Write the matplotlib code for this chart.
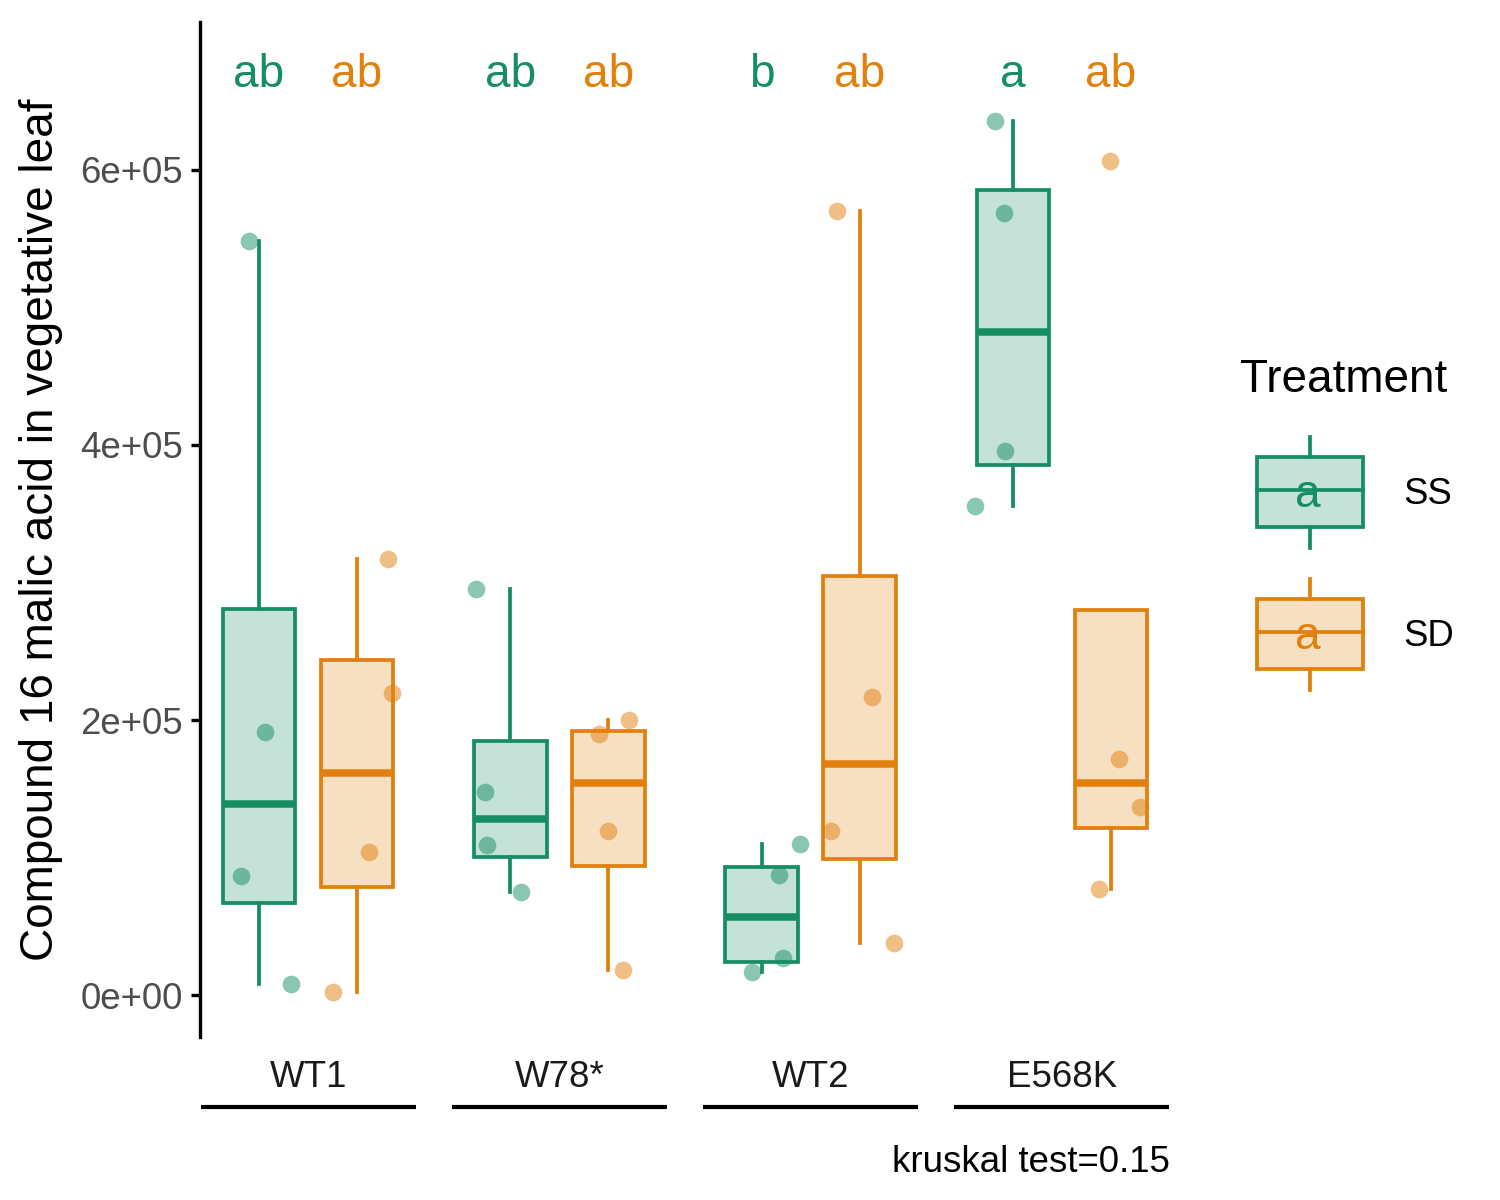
import numpy as np
import matplotlib.pyplot as plt
from matplotlib.patches import Rectangle

plt.rcParams['font.family'] = ['Liberation Sans', 'DejaVu Sans']

# data (values in units of 1e5)
genotypes = ['WT1', 'W78*', 'WT2', 'E568K']
treatments = ['SS', 'SD']
colors = {'SS': '#168E63', 'SD': '#E2800E'}

values = {
    'SS': [[5.484, 1.913, 0.865, 0.080],
           [2.953, 1.476, 1.091, 0.749],
           [1.098, 0.873, 0.269, 0.167],
           [6.356, 5.687, 3.956, 3.556]],
    'SD': [[3.171, 2.196, 1.040, 0.022],
           [2.000, 1.898, 1.193, 0.182],
           [5.702, 2.167, 1.193, 0.378],
           [6.065, 1.716, 1.367, 0.771]],
}
# horizontal jitter of each point (category units)
jitter = {
    'SS': [[-0.040, 0.024, -0.072, 0.127],
           [-0.135, -0.099, -0.091, 0.044],
           [0.151, 0.068, 0.083, -0.040],
           [-0.072, -0.036, -0.032, -0.151]],
    'SD': [[0.123, 0.139, 0.048, -0.095],
           [0.083, -0.036, 0.000, 0.060],
           [-0.091, 0.048, -0.115, 0.135],
           [-0.004, 0.032, 0.115, -0.048]],
}
letters = {'SS': ['ab', 'ab', 'b', 'a'], 'SD': ['ab', 'ab', 'ab', 'ab']}
kruskal_p = 0.15

dodge = 0.195
width = 0.29

fig = plt.figure(figsize=(5, 4), dpi=300)
ax = fig.add_axes([200/1500, 1 - 1037/1200, 970/1500, 1015/1200])

x0 = np.arange(1, len(genotypes) + 1)
for k, tr in enumerate(treatments):
    col = colors[tr]
    pos = x0 + (dodge if tr == 'SD' else -dodge)
    data = [np.array(v) * 1e5 for v in values[tr]]
    bp = ax.boxplot(data, positions=pos, widths=width, patch_artist=True,
                    showfliers=False, showcaps=False, whis=1.5,
                    boxprops=dict(facecolor=col, edgecolor=col, linewidth=0.9),
                    whiskerprops=dict(color=col, linewidth=0.9),
                    medianprops=dict(color=col, linewidth=1.8))
    for b in bp['boxes']:
        b.set_facecolor(plt.matplotlib.colors.to_rgba(col, 0.25))
    for i, p in enumerate(pos):
        xs = p + np.array(jitter[tr][i])
        ax.scatter(xs, data[i], s=18, color=col, alpha=0.5, linewidths=0, zorder=4)
        ax.text(p, 6.69e5, letters[tr][i], color=col, fontsize=11,
                ha='center', va='center')

ax.set_xlim(0.57, 4.43)
ax.set_ylim(-0.305e5, 7.076e5)
ax.set_yticks([0, 2e5, 4e5, 6e5])
ax.set_yticklabels(['0e+00', '2e+05', '4e+05', '6e+05'])
ax.set_xticks(x0)
ax.set_xticklabels(genotypes)
ax.tick_params(axis='x', length=0, pad=5.5, labelsize=8.8, labelcolor='#1a1a1a')
ax.tick_params(axis='y', length=2.2, width=0.8, pad=2, labelsize=8.8,
               labelcolor='#4D4D4D')
for s in ['top', 'right', 'bottom']:
    ax.spines[s].set_visible(False)
ax.spines['left'].set_linewidth(0.8)
ax.set_ylabel('Compound 16 malic acid in vegetative leaf', fontsize=11, labelpad=4)

# group lines under the labels
for xc in x0:
    ax.plot([xc - 0.428, xc + 0.428], [-0.069, -0.069], color='black', lw=1.0,
            transform=ax.get_xaxis_transform(), clip_on=False,
            solid_capstyle='butt')

ax.text(1.0, -0.124, f'kruskal test={kruskal_p}', transform=ax.transAxes,
        ha='right', va='center', fontsize=8.8)

# legend drawn in pixel coordinates
lg = fig.add_axes([0, 0, 1, 1], facecolor='none')
lg.set_xlim(0, 1500)
lg.set_ylim(1200, 0)
lg.axis('off')
lg.text(1240, 380, 'Treatment', fontsize=11, ha='left', va='center')
for tr, cy in zip(treatments, [492, 634]):
    col = colors[tr]
    lg.plot([1310, 1310], [cy - 55, cy - 35], color=col, lw=0.9)
    lg.plot([1310, 1310], [cy + 35, cy + 56], color=col, lw=0.9)
    lg.add_patch(Rectangle((1257, cy - 35), 106, 70,
                           facecolor=plt.matplotlib.colors.to_rgba(col, 0.25),
                           edgecolor=col, lw=0.9, zorder=3))
    lg.plot([1257, 1363], [cy - 2, cy - 2], color=col, lw=0.9, zorder=4)
    lg.text(1308, cy + 3, 'a', color=col, fontsize=11, ha='center',
            va='center', zorder=5)
    lg.text(1403, cy + 2, tr, fontsize=8.8, ha='left', va='center')

fig.savefig('out.png', dpi=300)
